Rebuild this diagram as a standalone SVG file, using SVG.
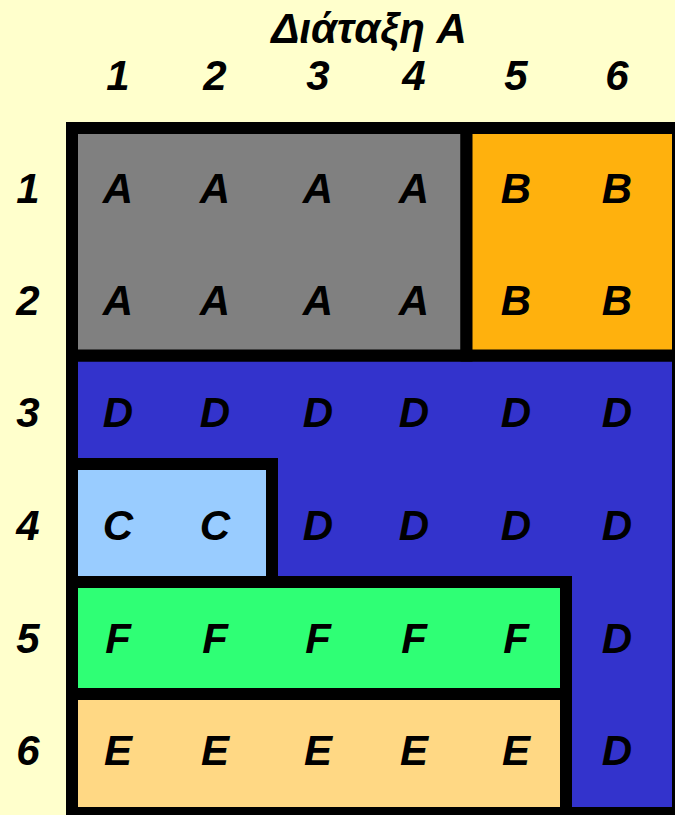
<svg xmlns="http://www.w3.org/2000/svg" width="675" height="815" viewBox="0 0 675 815">
<style>
.t{font-family:"Liberation Sans",Arial,sans-serif;font-weight:bold;font-style:italic;font-size:42px;fill:#000;text-anchor:middle}
.r{stroke:#000;stroke-width:12;stroke-linejoin:miter}
.rr{stroke:#000;stroke-width:12;stroke-linejoin:round}
</style>
<rect width="675" height="815" fill="#FFFFCC"/>
<g id="title"><text class="t" x="369" y="43">Διάταξη A</text></g>
<g id="col-labels">
<text class="t" x="118" y="90">1</text>
<text class="t" x="215" y="90">2</text>
<text class="t" x="318" y="90">3</text>
<text class="t" x="414" y="90">4</text>
<text class="t" x="516" y="90">5</text>
<text class="t" x="617" y="90">6</text>
</g>
<g id="row-labels">
<text class="t" x="28" y="203">1</text>
<text class="t" x="28" y="315">2</text>
<text class="t" x="28" y="427">3</text>
<text class="t" x="28" y="540">4</text>
<text class="t" x="28" y="653">5</text>
<text class="t" x="28" y="765">6</text>
</g>
<g id="regionD">
<path class="r" fill="#3333CC" d="M72,355.5 H678 V813 H566 V582 H272 V464 H72 Z"/>
<text class="t" x="118" y="427">D</text><text class="t" x="215" y="427">D</text><text class="t" x="318" y="427">D</text><text class="t" x="414" y="427">D</text><text class="t" x="516" y="427">D</text><text class="t" x="617" y="427">D</text>
<text class="t" x="318" y="540">D</text><text class="t" x="414" y="540">D</text><text class="t" x="516" y="540">D</text><text class="t" x="617" y="540">D</text>
<text class="t" x="617" y="653">D</text>
<text class="t" x="617" y="765">D</text>
</g>
<g id="regionC">
<rect class="rr" fill="#99CCFF" x="72" y="464" width="200" height="118"/>
<text class="t" x="118" y="540">C</text><text class="t" x="215" y="540">C</text>
</g>
<g id="regionF">
<rect class="rr" fill="#2FFF75" x="72" y="582" width="494" height="112"/>
<text class="t" x="118" y="653">F</text><text class="t" x="215" y="653">F</text><text class="t" x="318" y="653">F</text><text class="t" x="414" y="653">F</text><text class="t" x="516" y="653">F</text>
</g>
<g id="regionE">
<rect class="r" fill="#FFD884" x="72" y="694" width="494" height="119"/>
<text class="t" x="118" y="765">E</text><text class="t" x="215" y="765">E</text><text class="t" x="318" y="765">E</text><text class="t" x="414" y="765">E</text><text class="t" x="516" y="765">E</text>
</g>
<g id="regionA">
<rect class="r" fill="#808080" x="72" y="128" width="394.5" height="227.5"/>
<text class="t" x="118" y="203">A</text><text class="t" x="215" y="203">A</text><text class="t" x="318" y="203">A</text><text class="t" x="414" y="203">A</text>
<text class="t" x="118" y="315">A</text><text class="t" x="215" y="315">A</text><text class="t" x="318" y="315">A</text><text class="t" x="414" y="315">A</text>
</g>
<g id="regionB">
<rect class="r" fill="#FFB10D" x="466.5" y="128" width="211.5" height="227.5"/>
<text class="t" x="516" y="203">B</text><text class="t" x="617" y="203">B</text>
<text class="t" x="516" y="315">B</text><text class="t" x="617" y="315">B</text>
</g>
<g id="connectors"/>
</svg>
